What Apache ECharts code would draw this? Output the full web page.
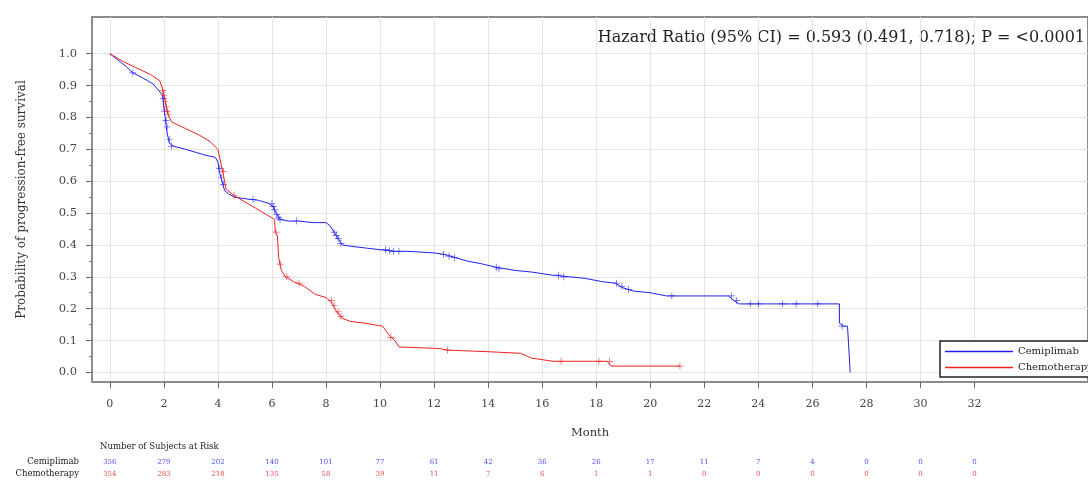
<!DOCTYPE html>
<html><head><meta charset="utf-8">
<script src="https://cdn.jsdelivr.net/npm/echarts@6/dist/echarts.min.js"></script>
<style>html,body{margin:0;padding:0;background:#fff}#c{width:1088px;height:482px}</style>
</head><body><div id="c"></div>
<script>
const monthTicks = [0,2,4,6,8,10,12,14,16,18,20,22,24,26,28,30,32];
const probTicks = [0,0.1,0.2,0.3,0.4,0.5,0.6,0.7,0.8,0.9,1.0];
const probMinorTicks = [0.05,0.15,0.25,0.35,0.45,0.55,0.65,0.75,0.85,0.95];
const groupNames = ['Cemiplimab','Chemotherapy'];
const riskCemi = [356,279,202,140,101,77,61,42,36,26,17,11,7,4,0,0,0];
const riskChemo = [354,283,218,135,58,39,11,7,6,1,1,0,0,0,0,0,0];

const cemiT = [0,0.3,0.6,0.85,1.2,1.6,1.85,1.95,2.0,2.05,2.1,2.2,2.35,2.8,3.2,3.6,3.9,4.0,4.05,4.15,4.25,4.4,4.6,5.0,5.5,5.9,6.05,6.15,6.3,6.6,7.0,7.5,8.0,8.15,8.3,8.45,8.6,9.0,9.5,10.0,10.5,11.0,12.0,12.4,12.8,13.2,13.8,14.3,15.0,15.6,16.4,17.0,17.6,18.2,18.7,19.0,19.4,20.0,20.6,22.9,23.1,23.3,27.0,27.0,27.15,27.3,27.4];
const cemiS = [1.0,0.98,0.96,0.94,0.925,0.905,0.88,0.87,0.83,0.80,0.76,0.72,0.71,0.70,0.69,0.68,0.675,0.66,0.63,0.60,0.57,0.56,0.55,0.545,0.54,0.53,0.52,0.50,0.48,0.475,0.475,0.47,0.47,0.46,0.44,0.42,0.40,0.395,0.39,0.385,0.38,0.38,0.375,0.37,0.36,0.35,0.34,0.33,0.32,0.315,0.305,0.30,0.295,0.285,0.28,0.265,0.255,0.25,0.24,0.24,0.225,0.215,0.215,0.155,0.145,0.145,0.0];
const chemoT = [0,0.5,1.0,1.5,1.85,1.95,2.05,2.15,2.3,2.8,3.3,3.7,4.0,4.1,4.2,4.3,4.6,5.0,5.4,5.8,6.1,6.12,6.2,6.25,6.35,6.5,6.8,7.2,7.6,8.0,8.2,8.4,8.6,8.9,9.4,10.1,10.35,10.55,10.7,12.2,12.5,14.0,15.2,15.6,16.4,18.4,18.55,21.1];
const chemoS = [1.0,0.975,0.955,0.935,0.915,0.89,0.85,0.81,0.785,0.765,0.745,0.725,0.70,0.66,0.62,0.575,0.555,0.535,0.515,0.495,0.48,0.44,0.43,0.36,0.32,0.30,0.285,0.27,0.245,0.235,0.22,0.19,0.17,0.16,0.155,0.145,0.115,0.10,0.08,0.075,0.07,0.065,0.06,0.045,0.035,0.035,0.02,0.02];

const cemiCensT = [0.85,1.98,2.03,2.08,2.12,2.2,2.28,4.07,4.13,4.2,5.3,6.0,6.05,6.1,6.18,6.25,6.3,6.9,8.3,8.38,8.45,8.55,10.2,10.35,10.5,10.7,12.35,12.55,12.75,14.3,14.4,16.6,16.8,18.75,18.95,19.2,20.8,23.0,23.2,23.7,24.0,24.9,25.4,26.2,27.1];
const cemiCensS = [0.94,0.86,0.82,0.79,0.77,0.73,0.71,0.64,0.61,0.59,0.543,0.53,0.52,0.51,0.495,0.485,0.48,0.475,0.44,0.43,0.42,0.405,0.385,0.382,0.38,0.38,0.37,0.365,0.36,0.33,0.325,0.305,0.30,0.28,0.27,0.26,0.24,0.24,0.225,0.215,0.215,0.215,0.215,0.215,0.145];
const chemoCensT = [1.95,2.0,2.05,2.08,2.12,2.16,4.2,4.6,6.15,6.3,6.55,7.0,8.2,8.3,8.45,8.55,10.4,12.5,16.7,18.1,18.5,21.1];
const chemoCensS = [0.885,0.87,0.85,0.835,0.82,0.81,0.63,0.555,0.44,0.34,0.30,0.28,0.225,0.21,0.19,0.175,0.11,0.07,0.035,0.035,0.035,0.02];

const BLUE = '#2020f0', RED = '#f02020';
const SERIF = 'DejaVu Serif';
const plus = 'path://M4.5,0h1v4.5h4.5v1h-4.5v4.5h-1v-4.5h-4.5v-1h4.5z';
const zip = (a,b) => a.map((v,i)=>[v,b[i]]);

const chart = echarts.init(document.getElementById('c'));
chart.setOption({
  animation:false,
  textStyle:{fontFamily:SERIF},
  grid:[
    {left:92,right:-3,top:17,bottom:100,show:true,borderColor:'#8c8c8c',borderWidth:2,backgroundColor:'transparent'},
    {left:92,right:-3,top:456,height:24}
  ],
  xAxis:[
    {gridIndex:0,type:'value',min:-0.66,max:36.2,
     name:'Month',nameLocation:'middle',nameGap:45,nameTextStyle:{fontFamily:SERIF,fontSize:11.5,color:'#333'},
     axisLine:{show:true,onZero:false,lineStyle:{color:'#8c8c8c',width:2}},
     axisTick:{show:true,length:6,customValues:monthTicks,lineStyle:{color:'#666'}},
     axisLabel:{customValues:monthTicks,margin:17,fontFamily:SERIF,fontSize:11,color:'#444'},
     splitLine:{show:true,lineStyle:{color:'#e4e4e4',width:1}}},
    {gridIndex:1,type:'value',min:-0.66,max:36.2,show:false}
  ],
  yAxis:[
    {gridIndex:0,type:'value',min:-0.03,max:1.115,
     name:'Probability of progression-free survival',nameLocation:'middle',nameGap:64,nameRotate:90,
     nameTextStyle:{fontFamily:SERIF,fontSize:12,color:'#333'},
     axisLine:{show:true,onZero:false,lineStyle:{color:'#8c8c8c',width:2}},
     axisTick:{show:true,length:6,customValues:probTicks,lineStyle:{color:'#666'}},
     axisLabel:{customValues:probTicks,margin:15,fontFamily:SERIF,fontSize:11.5,color:'#444',formatter:v=>v.toFixed(1)},
     splitLine:{show:true,lineStyle:{color:'#e4e4e4',width:1}}},
    {gridIndex:1,type:'category',data:groupNames,inverse:true,
     axisLine:{show:false},axisTick:{show:false},splitLine:{show:false},
     axisLabel:{margin:13,fontFamily:SERIF,fontSize:8.5,color:'#222'}},
    {gridIndex:0,type:'value',min:-0.03,max:1.115,position:'left',
     axisLine:{show:false,onZero:false},
     axisTick:{show:true,length:3,customValues:probMinorTicks,lineStyle:{color:'#777'}},
     axisLabel:{show:false,customValues:probMinorTicks},splitLine:{show:false}}
  ],
  legend:{
    orient:'vertical',left:940,top:341,
    data:[{name:groupNames[0],itemStyle:{color:BLUE}},{name:groupNames[1],itemStyle:{color:RED}}],
    icon:'rect',itemWidth:68,itemHeight:1.5,itemGap:3,
    itemStyle:{borderWidth:0},
    padding:[4,6,3,5],
    borderColor:'#222',borderWidth:1.5,backgroundColor:'#fff',
    textStyle:{fontFamily:SERIF,fontSize:10,lineHeight:13,color:'#222'}
  },
  graphic:[
    {type:'text',right:3,top:30,style:{text:'Hazard Ratio (95% CI) = 0.593 (0.491, 0.718); P = <0.0001',font:'16px "DejaVu Serif"',fill:'#222'}},
    {type:'text',left:100,top:442,style:{text:'Number of Subjects at Risk',font:'8.5px "DejaVu Serif"',fill:'#222'}}
  ],
  series:[
    {name:'Cemiplimab',type:'line',xAxisIndex:0,yAxisIndex:0,data:zip(cemiT,cemiS),showSymbol:false,lineStyle:{color:BLUE,width:1},itemStyle:{color:BLUE},z:3},
    {name:'Chemotherapy',type:'line',xAxisIndex:0,yAxisIndex:0,data:zip(chemoT,chemoS),showSymbol:false,lineStyle:{color:RED,width:1},itemStyle:{color:RED},z:4},
    {name:'cemiCens',type:'scatter',xAxisIndex:0,yAxisIndex:0,data:zip(cemiCensT,cemiCensS),symbol:plus,symbolSize:7,itemStyle:{color:BLUE},z:3},
    {name:'chemoCens',type:'scatter',xAxisIndex:0,yAxisIndex:0,data:zip(chemoCensT,chemoCensS),symbol:plus,symbolSize:7,itemStyle:{color:RED},z:4},
    {name:'riskCemi',type:'scatter',xAxisIndex:1,yAxisIndex:1,symbolSize:0,
     data:monthTicks.map((m,i)=>[m,groupNames[0],riskCemi[i]]),
     label:{show:true,position:'inside',formatter:p=>String(p.value[2]),fontFamily:SERIF,fontSize:7,color:BLUE}},
    {name:'riskChemo',type:'scatter',xAxisIndex:1,yAxisIndex:1,symbolSize:0,
     data:monthTicks.map((m,i)=>[m,groupNames[1],riskChemo[i]]),
     label:{show:true,position:'inside',formatter:p=>String(p.value[2]),fontFamily:SERIF,fontSize:7,color:RED}}
  ]
});
</script></body></html>
